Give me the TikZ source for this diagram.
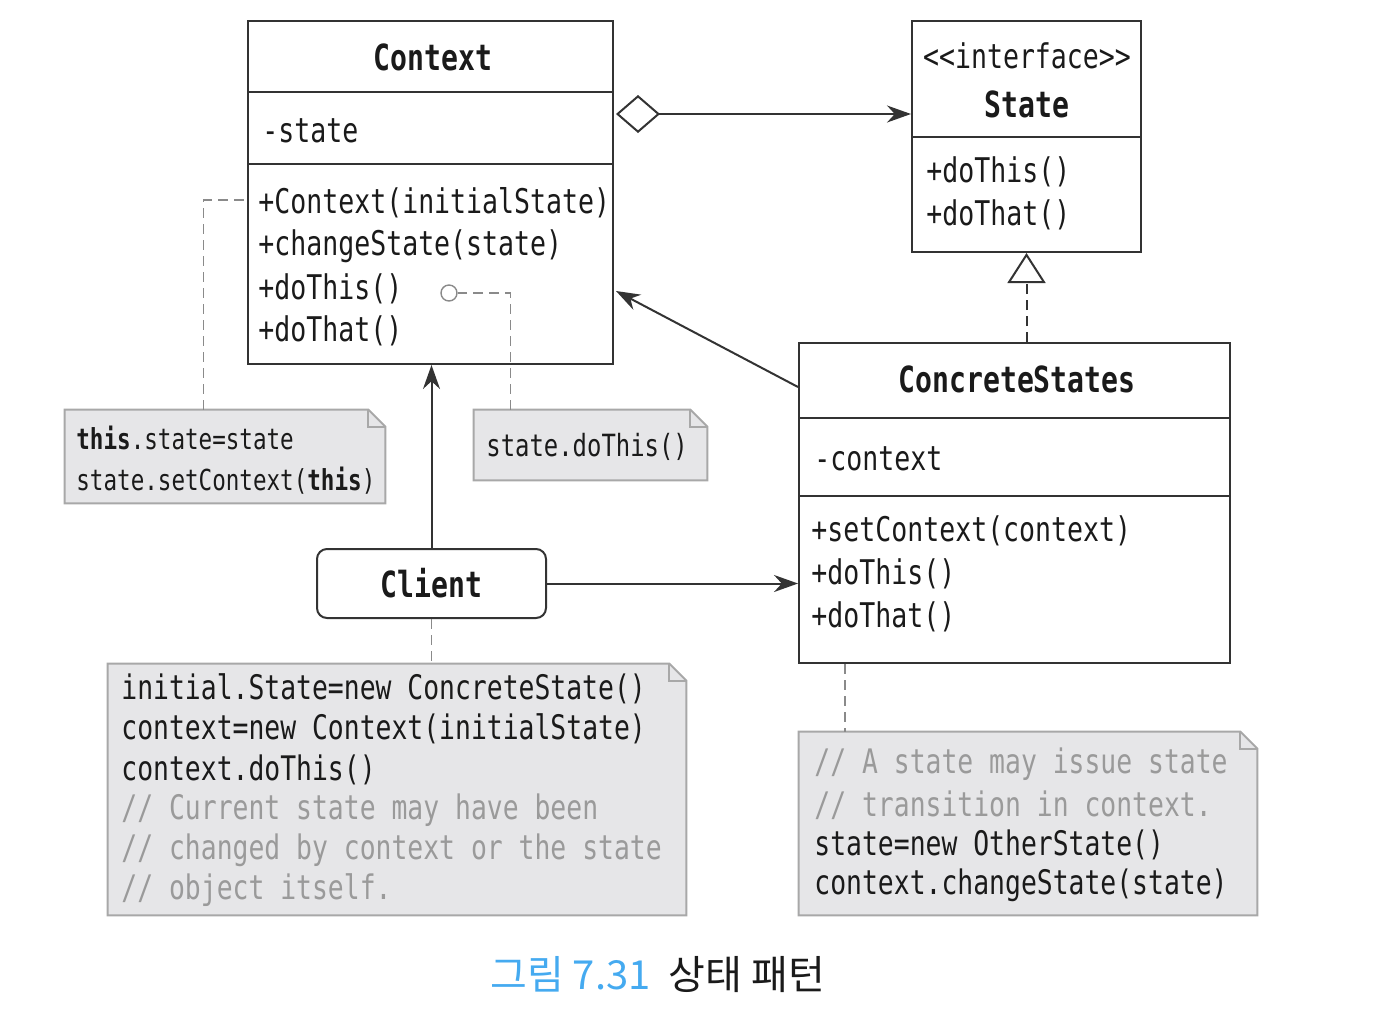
\documentclass[tikz,border=0pt]{standalone}
\usepackage{fontspec}
\newfontfamily\codefont[FakeStretch=0.781]{DejaVu Sans Mono}
\newfontfamily\krfont{Noto Sans CJK KR}
\usetikzlibrary{arrows.meta,fit,calc}
\definecolor{linec}{HTML}{333333}
\definecolor{textc}{HTML}{1A1A1A}
\definecolor{notefill}{HTML}{E6E6E8}
\definecolor{notedraw}{HTML}{A8A8A8}
\definecolor{commentc}{HTML}{9A9A9A}
\definecolor{capblue}{HTML}{45AAF0}
\definecolor{dashc}{HTML}{8A8A8A}
\tikzset{
  umlbox/.style={draw=linec, line width=1pt, inner sep=0pt},
  divider/.style={draw=linec, line width=1pt},
  txt/.style={anchor=west, inner sep=0pt, text=textc, font=\codefont\fontsize{17}{20}\selectfont},
  ttl/.style={inner sep=0pt, text=textc, font=\codefont\bfseries\fontsize{18}{21}\selectfont},
  ntxt/.style={anchor=west, inner sep=0pt, text=textc, align=left},
  notebg/.style={fill=notefill, draw=notedraw, line width=1pt},
  notefold/.style={draw=notedraw, line width=1pt},
  conn/.style={draw=linec, line width=1pt},
  notelink/.style={draw=dashc, line width=0.7pt, dash pattern=on 5pt off 3pt},
  realize/.style={draw=linec, line width=1pt, dash pattern=on 5pt off 3pt},
  tip/.style={-{Stealth[length=12pt,width=8.5pt]}},
}
\newcommand\mknote[5]{%
  \node[inner sep=0pt, fit={(#2,#3)(#4,#5)}] (#1) {};
  \draw[notebg] (#1.north west) -- ($(#1.north east)+(-17,0)$) -- ($(#1.north east)+(0,17)$) -- (#1.south east) -- (#1.south west) -- cycle;
  \draw[notefold] ($(#1.north east)+(-17,0)$) -- ($(#1.north east)+(-17,17)$) -- ($(#1.north east)+(0,17)$);
}
\begin{document}
\begin{tikzpicture}[x=0.5pt, y=-0.5pt]
\useasboundingbox (0,0) rectangle (1398,1014);

% ---------- Context ----------
\node[umlbox, fit={(248,21)(613,364)}] (ctx) {};
\draw[divider] (248,92) -- (613,92);
\draw[divider] (248,164) -- (613,164);
\node[ttl] (ctxT) at (433,57) {Context};
\node[txt] (ctxA) at (262,131) {-state};
\node[txt] (ctxM1) at (258,203) {+Context(initialState)};
\node[txt] (ctxM2) at (258,246) {+changeState(state)};
\node[txt] (ctxM3) at (258,289) {+doThis()};
\node[txt] (ctxM4) at (258,331) {+doThat()};

% ---------- State ----------
\node[umlbox, fit={(912,21)(1141,252)}] (st) {};
\draw[divider] (912,137) -- (1141,137);
\node[txt, anchor=center] (stS) at (1027,56) {<{}<interface>{}>};
\node[ttl] (stT) at (1027,104) {State};
\node[txt] (stM1) at (926,172) {+doThis()};
\node[txt] (stM2) at (926,215) {+doThat()};

% ---------- ConcreteStates ----------
\node[umlbox, fit={(799,343)(1230,663)}] (cs) {};
\draw[divider] (799,418) -- (1230,418);
\draw[divider] (799,496) -- (1230,496);
\node[ttl] (csT) at (1017,379) {ConcreteStates};
\node[txt] (csA) at (814,459) {-context};
\node[txt] (csM1) at (811,531) {+setContext(context)};
\node[txt] (csM2) at (811,574) {+doThis()};
\node[txt] (csM3) at (811,617) {+doThat()};

% ---------- Client ----------
\node[umlbox, rounded corners=5pt, minimum width=114.5pt, minimum height=34.5pt, ttl, draw=linec, line width=1pt] (cl) at (431.5,583.5) {Client};

% ---------- Notes ----------
\mknote{n1}{65}{410}{385}{503}
\node[ntxt, font=\codefont\fontsize{14.45}{17}\selectfont] (n1a) at (76,438) {\textbf{this}.state=state};
\node[ntxt, font=\codefont\fontsize{14.45}{17}\selectfont] (n1b) at (76,481) {state.setContext(\textbf{this})};

\mknote{n2}{474}{410}{707}{480}
\node[ntxt, font=\codefont\fontsize{15.3}{18}\selectfont] (n2a) at (486,447) {state.doThis()};

\mknote{n3}{108}{664}{686}{915}
\node[ntxt, font=\codefont\fontsize{16.9}{20}\selectfont] (n3a) at (121,689) {initial.State=new ConcreteState()};
\node[ntxt, font=\codefont\fontsize{16.9}{20}\selectfont] (n3b) at (121,729) {context=new Context(initialState)};
\node[ntxt, font=\codefont\fontsize{16.9}{20}\selectfont] (n3c) at (121,770) {context.doThis()};
\node[ntxt, font=\codefont\fontsize{16.9}{20}\selectfont, text=commentc] (n3d) at (121,810) {// Current state may have been};
\node[ntxt, font=\codefont\fontsize{16.9}{20}\selectfont, text=commentc] (n3e) at (121,850) {// changed by context or the state};
\node[ntxt, font=\codefont\fontsize{16.9}{20}\selectfont, text=commentc] (n3f) at (121,890) {// object itself.};

\mknote{n4}{799}{732}{1257}{915}
\node[ntxt, font=\codefont\fontsize{16.9}{20}\selectfont, text=commentc] (n4a) at (814,764) {// A state may issue state};
\node[ntxt, font=\codefont\fontsize{16.9}{20}\selectfont, text=commentc] (n4b) at (814,805) {// transition in context.};
\node[ntxt, font=\codefont\fontsize{16.9}{20}\selectfont] (n4c) at (814,845) {state=new OtherState()};
\node[ntxt, font=\codefont\fontsize{16.9}{20}\selectfont] (n4d) at (814,885) {context.changeState(state)};

% ---------- Connectors ----------
% aggregation Context <>--> State
\draw[conn, {Diamond[open,fill=white,length=22pt,width=19pt]}-{Stealth[length=12pt,width=8.5pt]}] ($(ctx.east |- 0,114)+(2,0)$) -- (st.west |- 0,114);
% realization ConcreteStates ..|> State
\draw[realize, -{Triangle[open,fill=white,length=15pt,width=19pt]}] (st.south |- cs.north) -- (st.south);
% ConcreteStates --> Context
\draw[conn, tip] (cs.west |- 0,387) -- ($(ctx.east |- 0,291)+(2,0)$);
% Client --> Context
\draw[conn, tip] (cl.north) -- (cl.north |- ctx.south);
% Client --> ConcreteStates
\draw[conn, tip] (cl.east) -- (cl.east -| cs.west);

% note links
\draw[notelink] ($(n1.north west)+(139,0)$) |- (ctx.west |- 0,200);
\node[circle, draw=dashc, line width=0.7pt, minimum size=8pt, inner sep=0pt] (dot) at (449,293) {};
\draw[notelink] ($(n2.north west)+(37,0)$) |- (dot.east);
\draw[notelink] (cl.south) -- (cl.south |- n3.north);
\coordinate (c4) at ($(cs.south west)+(47,0)$);
\draw[notelink] (c4) -- (c4 |- n4.north);

% ---------- Caption ----------
\node[anchor=west, inner sep=0pt, font=\krfont\fontsize{20}{24}\selectfont] (cap) at (490,975) {\textcolor{capblue}{그림 7.31}\hspace{9pt}\textcolor{textc}{상태 패턴}};
\end{tikzpicture}
\end{document}
